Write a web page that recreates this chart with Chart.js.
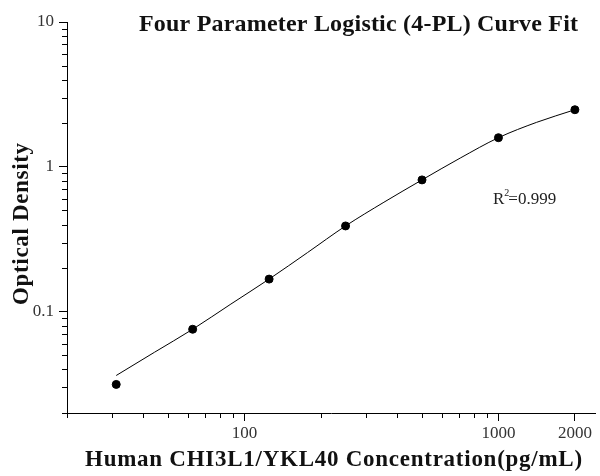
<!DOCTYPE html>
<html>
<head>
<meta charset="utf-8">
<script src="https://cdn.jsdelivr.net/npm/chart.js@4/dist/chart.umd.min.js"></script>
<style>
  html, body { margin: 0; padding: 0; background: #fff; }
  #wrap { width: 600px; height: 476px; }
</style>
</head>
<body>
<div id="wrap"><canvas id="curveChart"></canvas></div>
<script>
// standard concentrations (pg/mL) and measured OD
var conc = [31.25, 62.5, 125, 250, 500, 1000, 2000];
var od = [0.0315, 0.0757, 0.168, 0.391, 0.813, 1.59, 2.48];

// fitted 4-PL curve
var fitConc = [31.25, 44.2, 62.5, 88.4, 125, 177, 250, 354, 500, 707, 1000, 1414, 2000];
var fitOd = [0.0363, 0.0525, 0.0757, 0.113, 0.168, 0.256, 0.391, 0.57, 0.813, 1.15, 1.59, 2.03, 2.48];

// axis ticks
var xTicks = [20, 30, 40, 50, 60, 70, 80, 90, 100, 200, 300, 400, 500, 600, 700, 800, 900, 1000, 2000];
var xLabels = [100, 1000, 2000];
var yTicks = [0.02, 0.03, 0.04, 0.05, 0.06, 0.07, 0.08, 0.09, 0.1, 0.2, 0.3, 0.4, 0.5, 0.6, 0.7, 0.8, 0.9,
  1, 2, 3, 4, 5, 6, 7, 8, 9, 10];
var yLabels = [0.1, 1, 10];

var serif = "'Liberation Serif', 'Times New Roman', serif";

function isMajor(list, v) {
  return list.some(function (m) { return Math.abs(m - v) < 1e-9; });
}

// draw text, spread a little so it spans the given width
function spacedText(ctx, text, x, y, width) {
  ctx.letterSpacing = "0px";
  var w = ctx.measureText(text).width;
  var sp = (width - w) / (text.length - 1);
  if (sp > 0) ctx.letterSpacing = sp.toFixed(2) + "px";
  ctx.fillText(text, x, y);
  ctx.letterSpacing = "0px";
}

// minor ticks, titles and R2 note
var extras = {
  id: "extras",
  afterDraw: function (chart) {
    var ctx = chart.ctx;
    var xs = chart.scales.x, ys = chart.scales.y;
    ctx.save();
    ctx.strokeStyle = "#000";
    ctx.lineWidth = 1;
    ctx.beginPath();
    xTicks.forEach(function (v) {
      if (isMajor(xLabels, v)) return;
      var px = Math.round(xs.getPixelForValue(v)) + 0.5;
      ctx.moveTo(px, xs.top);
      ctx.lineTo(px, xs.top + 5);
    });
    yTicks.forEach(function (v) {
      if (isMajor(yLabels, v)) return;
      var py = Math.round(ys.getPixelForValue(v)) + 0.5;
      ctx.moveTo(ys.right, py);
      ctx.lineTo(ys.right - 5, py);
    });
    ctx.stroke();

    ctx.fillStyle = "#111";
    ctx.textAlign = "left";
    ctx.textBaseline = "alphabetic";
    ctx.font = "bold 24px " + serif;
    spacedText(ctx, "Four Parameter Logistic (4-PL) Curve Fit", 139, 31, 439);

    ctx.font = "bold 23px " + serif;
    spacedText(ctx, "Human CHI3L1/YKL40 Concentration(pg/mL)", 85, 466, 497);

    ctx.save();
    ctx.translate(28, 305);
    ctx.rotate(-Math.PI / 2);
    ctx.font = "bold 23px " + serif;
    spacedText(ctx, "Optical Density", 0, 0, 162);
    ctx.restore();

    ctx.fillStyle = "#222";
    ctx.font = "17px " + serif;
    ctx.fillText("R", 493, 204);
    var w = ctx.measureText("R").width;
    ctx.font = "10px " + serif;
    ctx.fillText("2", 493 + w, 196);
    ctx.font = "17px " + serif;
    ctx.fillText("=0.999", 493 + w + 4, 204);
    ctx.restore();
  }
};

new Chart("curveChart", {
  type: "scatter",
  data: {
    datasets: [{
      type: "line",
      data: fitConc.map(function (c, i) { return { x: c, y: fitOd[i] }; }),
      borderColor: "#000",
      borderWidth: 1,
      pointRadius: 0,
      cubicInterpolationMode: "monotone",
      fill: false
    }, {
      data: conc.map(function (c, i) { return { x: c, y: od[i] }; }),
      backgroundColor: "#000",
      borderColor: "#000",
      pointRadius: 4
    }]
  },
  options: {
    responsive: true,
    maintainAspectRatio: false,
    animation: false,
    layout: { padding: { top: 22, right: -4, left: 0, bottom: 0 } },
    plugins: {
      legend: { display: false },
      tooltip: { enabled: false }
    },
    scales: {
      x: {
        type: "logarithmic",
        min: 20,
        max: 2400,
        afterBuildTicks: function (axis) {
          axis.ticks = xTicks.map(function (v) { return { value: v }; });
        },
        afterFit: function (axis) { axis.height = 63; },
        border: { color: "#000", width: 1 },
        grid: {
          drawOnChartArea: false,
          tickLength: 8,
          tickColor: function (c) { return isMajor(xLabels, c.tick.value) ? "#000" : "rgba(0,0,0,0)"; }
        },
        ticks: {
          autoSkip: false,
          maxRotation: 0,
          padding: 2,
          color: "#333",
          font: { family: serif, size: 17 },
          callback: function (v) { return isMajor(xLabels, v) ? String(v) : ""; }
        }
      },
      y: {
        type: "logarithmic",
        min: 0.02,
        max: 10,
        afterBuildTicks: function (axis) {
          axis.ticks = yTicks.map(function (v) { return { value: v }; });
        },
        afterFit: function (axis) { axis.width = 67; },
        border: { color: "#000", width: 1 },
        grid: {
          drawOnChartArea: false,
          tickLength: 8,
          tickColor: function (c) { return isMajor(yLabels, c.tick.value) ? "#000" : "rgba(0,0,0,0)"; }
        },
        ticks: {
          autoSkip: false,
          padding: 5,
          color: "#333",
          font: { family: serif, size: 17 },
          callback: function (v) { return isMajor(yLabels, v) ? String(v) : ""; }
        }
      }
    }
  },
  plugins: [extras]
});
</script>
</body>
</html>
